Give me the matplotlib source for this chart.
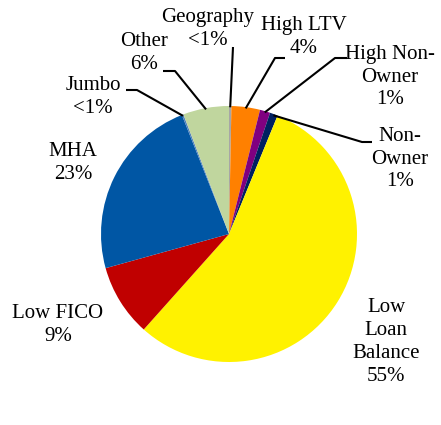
import matplotlib
matplotlib.use("Agg")
import matplotlib.pyplot as plt
import numpy as np

categories = ["Geography", "High LTV", "High Non-Owner", "Non-Owner",
              "Low Loan Balance", "Low FICO", "MHA", "Jumbo", "Other"]
values = [0.3, 3.6, 1.3, 1.0, 55.4, 9.1, 23.3, 0.2, 5.8]
pct_labels = ["<1%", "4%", "1%", "1%", "55%", "9%", "23%", "<1%", "6%"]
label_text = ["Geography", "High LTV", "High Non-\nOwner", "Non-\nOwner",
              "Low\nLoan\nBalance", "Low FICO", "MHA", "Jumbo", "Other"]
colors = ["#A6A6A6", "#FF8000", "#800080", "#002060", "#FFF200",
          "#C00000", "#0056A4", "#4F81BD", "#C0D69E"]

plt.rcParams['font.family'] = ['Liberation Serif', 'DejaVu Serif']

W, H = 441, 425
CX, CY, R = 229, 234, 128
fig = plt.figure(figsize=(W / 100, H / 100), dpi=100)
ax = fig.add_axes([(CX - R) / W, (H - (CY + R)) / H, 2 * R / W, 2 * R / H])

wedges, _ = ax.pie(values, colors=colors, startangle=90, counterclock=False,
                   radius=1.0, wedgeprops=dict(linewidth=0))
ax.set_xlim(-1, 1)
ax.set_ylim(-1, 1)
ax.set_aspect('auto')
ax.axis('off')

def px(x, y):
    return (x - CX) / R, (CY - y) / R

# label centers in pixels (layout)
text_pos = {
    "Geography": (208, 29),
    "High LTV": (304, 37),
    "High Non-Owner": (390, 77),
    "Non-Owner": (400, 159),
    "Low Loan Balance": (386, 342),
    "Low FICO": (58, 325),
    "MHA": (73, 163),
    "Jumbo": (93, 97),
    "Other": (144, 53),
}
# leader line: horizontal segment start/end (pixels) near label
leaders = {
    "Geography": [(233, 47)],
    "High LTV": [(285, 58), (275, 58)],
    "High Non-Owner": [(347, 58), (335, 58)],
    "Non-Owner": [(372, 142), (362, 142)],
    "Jumbo": [(126, 90), (137, 90)],
    "Other": [(163, 71), (175, 71)],
}

for w, cat, lt, pl in zip(wedges, categories, label_text, pct_labels):
    tx, ty = text_pos[cat]
    x, y = px(tx, ty)
    ax.text(x, y, lt + "\n" + pl, ha='center', va='center', fontsize=15,
            linespacing=1.27, clip_on=False)
    if cat in leaders:
        mid = np.deg2rad((w.theta1 + w.theta2) / 2)
        ex, ey = np.cos(mid) * 0.99, np.sin(mid) * 0.99
        pts = [px(*p) for p in leaders[cat]] + [(ex, ey)]
        xs, ys = zip(*pts)
        ax.plot(xs, ys, color='black', lw=1.5, clip_on=False,
                solid_capstyle='butt')

fig.savefig("out.png", dpi=100)
